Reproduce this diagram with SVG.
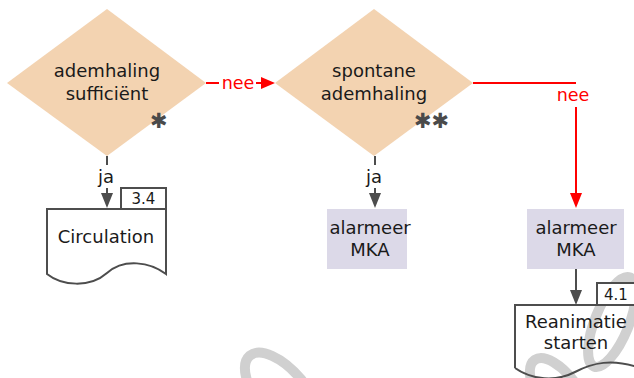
<svg xmlns="http://www.w3.org/2000/svg" width="634" height="378" viewBox="0 0 634 378">
  <style>
    text { font-family: "DejaVu Sans", Verdana, sans-serif; fill: #1a1a1a; }
    .lbl { font-size: 18px; text-anchor: middle; }
    .ref { font-size: 15px; text-anchor: middle; }
    .red { fill: #ff0000; font-size: 17.5px; text-anchor: middle; }
    .star { fill: #4a4a4a; font-size: 21px; font-weight: bold; }
    .decision { fill: #f3d3b1; }
    .action { fill: #dcd9e8; }
    .doc { fill: none; stroke: #4d4d4d; stroke-width: 2; }
    .tab { fill: #ffffff; stroke: #4d4d4d; stroke-width: 2; }
    .wire { fill: none; stroke: #4d4d4d; stroke-width: 2; }
    .wire-red { fill: none; stroke: #ff0000; stroke-width: 2; }
    .head { fill: #4d4d4d; }
    .head-red { fill: #ff0000; }
    .wm { fill: none; stroke: #d0d0d0; stroke-width: 10; }
  </style>

  <!-- faint background stamp -->
  <g id="stamp">
    <ellipse class="wm" cx="282" cy="394" rx="50" ry="24" transform="rotate(50 282 394)"/>
    <ellipse class="wm" cx="560" cy="396" rx="44" ry="20" transform="rotate(55 560 396)"/>
    <ellipse class="wm" cx="612" cy="322" rx="48" ry="17" transform="rotate(112 612 322)"/>
  </g>

  <g id="connectors">
    <!-- ademhaling sufficiënt: nee -> spontane ademhaling -->
    <path class="wire-red" d="M206,83 H219 M256,83 H263"/>
    <polygon class="head-red" points="261,77 275,83 261,89"/>
    <text class="red" x="238" y="89">nee</text>

    <!-- spontane ademhaling: nee -> alarmeer MKA (right) -->
    <path class="wire-red" d="M473,83 H576 M576,107 V195"/>
    <polygon class="head-red" points="570,193 582,193 576,208"/>
    <text class="red" x="573" y="101">nee</text>

    <!-- ademhaling sufficiënt: ja -> Circulation -->
    <path class="wire" d="M107,156 V165 M107,188 V195"/>
    <polygon class="head" points="101,193 113,193 107,208"/>
    <text class="lbl" x="106" y="183">ja</text>

    <!-- spontane ademhaling: ja -> alarmeer MKA (middle) -->
    <path class="wire" d="M375,156 V165 M375,188 V195"/>
    <polygon class="head" points="369,193 381,193 375,208"/>
    <text class="lbl" x="374" y="183">ja</text>

    <!-- alarmeer MKA -> Reanimatie starten -->
    <path class="wire" d="M576,269 V292"/>
    <polygon class="head" points="570,290 582,290 576,305"/>
  </g>

  <g id="ademhaling-sufficient">
    <polygon class="decision" points="107,9 206,83 107,156 7,83"/>
    <text class="lbl" x="107" y="77">ademhaling</text>
    <text class="lbl" x="107" y="100">sufficiënt</text>
    <text class="star" x="150" y="128">✱</text>
  </g>

  <g id="spontane-ademhaling">
    <polygon class="decision" points="374,9 473,83 374,156 275,83"/>
    <text class="lbl" x="374" y="77">spontane</text>
    <text class="lbl" x="374" y="100">ademhaling</text>
    <text class="star" x="414" y="128">✱✱</text>
  </g>

  <g id="circulation">
    <path class="doc" d="M47,274 V209 H166 V274 C150,262 124,258 107,273 C90,288 62,286 47,274 Z"/>
    <rect class="tab" x="121" y="188" width="45" height="21"/>
    <text class="ref" x="143.5" y="204">3.4</text>
    <text class="lbl" x="106" y="243">Circulation</text>
  </g>

  <g id="alarmeer-mka-1">
    <rect class="action" x="327" y="209" width="80" height="60"/>
    <text class="lbl" x="370" y="234">alarmeer</text>
    <text class="lbl" x="370" y="256">MKA</text>
  </g>

  <g id="alarmeer-mka-2">
    <rect class="action" x="527" y="209" width="97" height="60"/>
    <text class="lbl" x="576" y="234">alarmeer</text>
    <text class="lbl" x="576" y="256">MKA</text>
  </g>

  <g id="reanimatie-starten">
    <path class="doc" d="M515,368 V305 H645 M515,368 C532,380 556,382 575,372 C592,363 612,358 640,368"/>
    <rect class="tab" x="597" y="283" width="45" height="22"/>
    <text class="ref" x="616" y="300">4.1</text>
    <text class="lbl" x="576" y="328">Reanimatie</text>
    <text class="lbl" x="576" y="349">starten</text>
  </g>
</svg>
